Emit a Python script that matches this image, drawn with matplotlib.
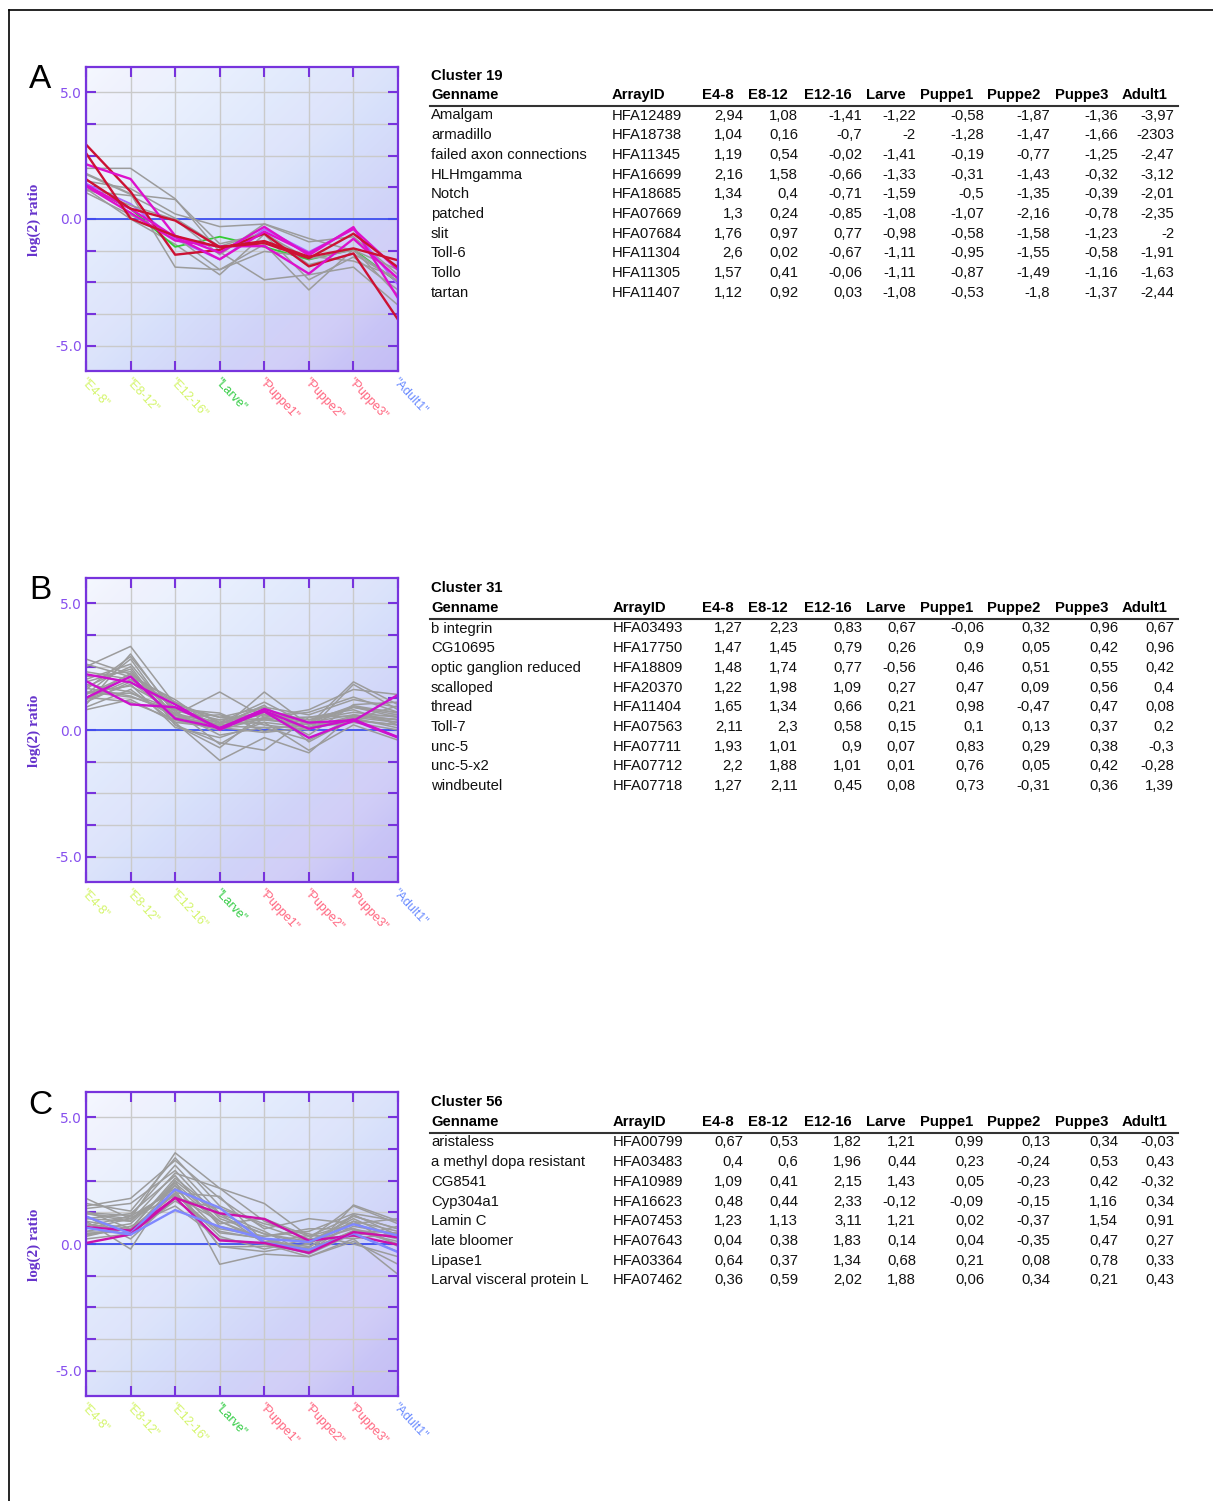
import numpy as np
import matplotlib.pyplot as plt
from matplotlib.lines import Line2D

W, H = 1213, 1501

stages = ["E4-8", "E8-12", "E12-16", "Larve", "Puppe1", "Puppe2", "Puppe3", "Adult1"]
stage_colors = ["#d4f56a", "#d4f56a", "#d4f56a", "#33cc44",
                "#ff6680", "#ff6680", "#ff6680", "#6b8cff"]

# ---- Cluster 19 ----
genes_a = ["Amalgam", "armadillo", "failed axon connections", "HLHmgamma", "Notch",
           "patched", "slit", "Toll-6", "Tollo", "tartan"]
ids_a = ["HFA12489", "HFA18738", "HFA11345", "HFA16699", "HFA18685",
         "HFA07669", "HFA07684", "HFA11304", "HFA11305", "HFA11407"]
values_a = [
    [2.94, 1.08, -1.41, -1.22, -0.58, -1.87, -1.36, -3.97],
    [1.04, 0.16, -0.7, -2, -1.28, -1.47, -1.66, -2.303],
    [1.19, 0.54, -0.02, -1.41, -0.19, -0.77, -1.25, -2.47],
    [2.16, 1.58, -0.66, -1.33, -0.31, -1.43, -0.32, -3.12],
    [1.34, 0.4, -0.71, -1.59, -0.5, -1.35, -0.39, -2.01],
    [1.3, 0.24, -0.85, -1.08, -1.07, -2.16, -0.78, -2.35],
    [1.76, 0.97, 0.77, -0.98, -0.58, -1.58, -1.23, -2],
    [2.6, 0.02, -0.67, -1.11, -0.95, -1.55, -0.58, -1.91],
    [1.57, 0.41, -0.06, -1.11, -0.87, -1.49, -1.16, -1.63],
    [1.12, 0.92, 0.03, -1.08, -0.53, -1.8, -1.37, -2.44],
]
highlight_a = {"Amalgam": "#cc1133", "Toll-6": "#cc1133", "Tollo": "#cc1133",
               "HLHmgamma": "#dd11cc", "Notch": "#dd11cc", "patched": "#dd11cc"}
# further cluster members
others_a = [
    [2.0, 2.0, 0.8, -1.3, -2.4, -2.2, -1.9, -3.4],
    [1.8, 1.0, -1.9, -2.0, -1.0, -2.8, -1.2, -3.0],
    [1.5, 1.2, 0.2, -0.3, -0.2, -0.9, -0.7, -2.2],
    [1.2, 0.0, -1.0, -2.2, -0.6, -2.4, -1.5, -2.8],
    [1.3, 0.4, -1.1, -0.7, -1.1, -1.6, -1.2, -2.5],
    [1.4, 0.6, -0.8, -1.6, -0.4, -1.3, -0.4, -2.6],
]
others_a_colors = ["#9c9c9c", "#9c9c9c", "#9c9c9c", "#9c9c9c", "#33cc33", "#aa66ff"]

# ---- Cluster 31 ----
genes_b = ["b integrin", "CG10695", "optic ganglion reduced", "scalloped", "thread",
           "Toll-7", "unc-5", "unc-5-x2", "windbeutel"]
ids_b = ["HFA03493", "HFA17750", "HFA18809", "HFA20370", "HFA11404",
         "HFA07563", "HFA07711", "HFA07712", "HFA07718"]
values_b = [
    [1.27, 2.23, 0.83, 0.67, -0.06, 0.32, 0.96, 0.67],
    [1.47, 1.45, 0.79, 0.26, 0.9, 0.05, 0.42, 0.96],
    [1.48, 1.74, 0.77, -0.56, 0.46, 0.51, 0.55, 0.42],
    [1.22, 1.98, 1.09, 0.27, 0.47, 0.09, 0.56, 0.4],
    [1.65, 1.34, 0.66, 0.21, 0.98, -0.47, 0.47, 0.08],
    [2.11, 2.3, 0.58, 0.15, 0.1, 0.13, 0.37, 0.2],
    [1.93, 1.01, 0.9, 0.07, 0.83, 0.29, 0.38, -0.3],
    [2.2, 1.88, 1.01, 0.01, 0.76, 0.05, 0.42, -0.28],
    [1.27, 2.11, 0.45, 0.08, 0.73, -0.31, 0.36, 1.39],
]
highlight_b = {"unc-5": "#cc11cc", "unc-5-x2": "#cc11cc", "windbeutel": "#cc11cc"}
others_b = [
    [2.8, 2.2, 1.1, 0.3, 0.6, 0.3, 0.9, 0.6],
    [2.5, 3.3, 1.0, 0.5, 0.4, 0.2, 1.9, 1.0],
    [1.0, 3.0, 0.6, 1.5, 0.5, 0.8, 1.6, 1.4],
    [1.4, 2.8, 0.4, 0.0, 1.5, 0.2, 0.9, 0.7],
    [0.8, 1.2, 0.3, -1.2, -0.3, -0.9, 0.6, 0.3],
    [1.7, 2.5, 0.2, -0.5, -0.8, 0.5, 0.8, 0.2],
    [1.2, 1.8, 0.1, -0.3, 0.3, -0.8, 0.2, -0.4],
    [2.0, 2.6, 0.5, 0.6, 0.2, 0.0, 1.8, 0.8],
    [1.5, 1.3, 0.8, 0.4, 0.6, 0.4, 0.7, 0.5],
    [0.9, 1.6, 0.3, 0.1, -0.1, 0.1, 0.3, 0.0],
    [2.3, 2.0, 0.9, 0.5, 0.9, 0.6, 1.2, 0.9],
    [1.6, 2.9, 0.7, -0.2, 0.1, -0.4, 0.5, 0.6],
    [1.3, 1.1, 0.4, 0.2, 0.4, 0.3, 0.6, 0.4],
    [1.9, 2.4, 0.2, -0.7, 0.7, -0.2, 1.0, 1.1],
    [1.1, 1.9, 0.6, 0.3, 1.1, 0.2, 0.4, 0.2],
    [2.6, 2.1, 1.2, 0.0, 0.5, 0.7, 1.3, 0.7],
    [1.8, 1.5, 0.5, 0.2, 0.3, 0.1, 0.5, 0.3],
    [1.4, 2.2, 0.3, 0.4, 0.7, 0.4, 0.9, 0.5],
]
others_b_colors = ["#9c9c9c"] * len(others_b)

# ---- Cluster 56 ----
genes_c = ["aristaless", "a methyl dopa resistant", "CG8541", "Cyp304a1", "Lamin C",
           "late bloomer", "Lipase1", "Larval visceral protein L"]
ids_c = ["HFA00799", "HFA03483", "HFA10989", "HFA16623", "HFA07453",
         "HFA07643", "HFA03364", "HFA07462"]
values_c = [
    [0.67, 0.53, 1.82, 1.21, 0.99, 0.13, 0.34, -0.03],
    [0.4, 0.6, 1.96, 0.44, 0.23, -0.24, 0.53, 0.43],
    [1.09, 0.41, 2.15, 1.43, 0.05, -0.23, 0.42, -0.32],
    [0.48, 0.44, 2.33, -0.12, -0.09, -0.15, 1.16, 0.34],
    [1.23, 1.13, 3.11, 1.21, 0.02, -0.37, 1.54, 0.91],
    [0.04, 0.38, 1.83, 0.14, 0.04, -0.35, 0.47, 0.27],
    [0.64, 0.37, 1.34, 0.68, 0.21, 0.08, 0.78, 0.33],
    [0.36, 0.59, 2.02, 1.88, 0.06, 0.34, 0.21, 0.43],
]
highlight_c = {"aristaless": "#cc11aa", "late bloomer": "#cc11aa",
               "CG8541": "#7f88ff", "Lipase1": "#7f88ff"}
others_c = [
    [1.8, 1.0, 3.6, 2.2, 0.9, 0.2, 1.5, 0.8],
    [1.5, 1.8, 3.3, 1.8, 0.6, 1.0, 0.8, 1.0],
    [1.2, 0.9, 2.8, 2.2, 1.6, 0.3, 1.1, 0.6],
    [0.9, -0.2, 2.5, -0.8, -0.4, -0.5, 0.2, -1.2],
    [1.0, 1.2, 2.7, 0.7, 0.3, 0.5, 1.2, 0.9],
    [0.3, 0.7, 1.5, 0.2, 0.0, -0.5, 0.1, -0.8],
    [1.4, 1.6, 2.9, 1.0, 0.4, 0.0, 0.9, 0.5],
    [0.6, 1.0, 2.2, 0.5, 0.2, -0.2, 0.5, 0.1],
    [1.1, 0.2, 1.8, 1.4, 0.8, 0.4, 0.0, -0.5],
    [0.5, 0.8, 2.4, 0.9, 0.1, -0.1, 0.7, 0.4],
    [0.8, 0.5, 2.0, 0.3, -0.2, 0.2, 0.3, 0.7],
    [1.6, 1.3, 3.4, 1.5, 0.7, 0.1, 1.0, 0.2],
    [0.2, 0.4, 1.7, 0.6, 0.3, 0.6, 0.6, 0.0],
    [1.3, 0.6, 2.6, 1.2, 0.5, -0.4, 0.4, -0.3],
    [0.7, 1.1, 2.1, -0.1, -0.3, 0.0, 1.1, 0.6],
    [1.0, 0.9, 2.3, 0.8, 1.0, 0.3, 0.8, 0.3],
    [0.9, 0.6, 2.5, 1.1, 0.4, 0.1, 0.6, 0.2],
    [1.2, 1.0, 1.9, 0.9, 0.2, -0.3, 0.9, -0.1],
]
others_c_colors = ["#9c9c9c"] * len(others_c)

# typo kept as printed in the source table
display_fix = {("armadillo", 7): "-2303"}

PURPLE = "#7733dd"
GREY = "#9c9c9c"
num_right = [743, 798, 862, 916, 984, 1050, 1118, 1174]
head_left = [702, 748, 804, 866, 920, 987, 1055, 1122]

fig = plt.figure(figsize=(W / 100, H / 100), dpi=100)


def fx(x):
    return x / W


def fy(y):
    return 1 - y / H


def background():
    c = np.linspace(0, 1, 300)
    r = np.linspace(0, 1, 300)
    C, R = np.meshgrid(c, r)
    t = ((C + R) / 2)[..., None]
    c0 = np.array([0.96, 0.975, 1.0])
    cm = np.array([0.85, 0.89, 0.985])
    c1 = np.array([0.77, 0.74, 0.96])
    img = np.where(t < 0.5, c0 + (cm - c0) * (t / 0.5), cm + (c1 - cm) * ((t - 0.5) / 0.5))
    pink = np.array([0.95, 0.88, 0.97])
    band = np.clip(np.sin(2 * np.pi * (C + R) * 1.4), 0, 1)[..., None]
    img = img * (1 - 0.12 * band) + pink * 0.12 * band
    return np.clip(img, 0, 1)


def draw_panel(top, letter, cluster, genes, ids, values, highlight, others, others_colors, ty, id_x):
    ax = fig.add_axes([fx(86), fy(top + 304), 312 / W, 304 / H])
    ax.imshow(background(), extent=[0, 7, -6, 6], aspect="auto", zorder=0)
    ax.set_xlim(0, 7)
    ax.set_ylim(-6, 6)
    ax.set_axisbelow(True)
    yt = np.arange(-5, 5.01, 1.25)
    ax.set_yticks(yt)
    ax.set_yticklabels([f"{v:.1f}" if v in (-5, 0, 5) else "" for v in yt])
    ax.set_xticks(range(len(stages)))
    ax.grid(True, color="#cacaca", lw=1)
    ax.tick_params(axis="both", direction="in", length=7, width=1.5, color=PURPLE,
                   top=True, right=True, labelbottom=False, labelsize=10,
                   labelcolor="#8750ee", pad=3)
    for s in ax.spines.values():
        s.set_color(PURPLE)
        s.set_linewidth(1.6)
        s.set_zorder(5)
    ax.axhline(0, color="#3d4ff0", lw=1.3, zorder=1.5)

    x = np.arange(len(stages))
    for vals, col in zip(others, others_colors):
        ax.plot(x, vals, color=col, lw=1.3 if col != GREY else 1.1, zorder=2)
    for g, vals in zip(genes, values):
        if g not in highlight:
            ax.plot(x, vals, color=GREY, lw=1.1, zorder=2)
    for g, vals in zip(genes, values):
        if g in highlight:
            ax.plot(x, vals, color=highlight[g], lw=1.7, zorder=3)

    tr = ax.get_xaxis_transform()
    for i, (lab, col) in enumerate(zip(stages, stage_colors)):
        ax.text(i + 0.02, -0.015, f'"{lab}"', transform=tr, rotation=-47,
                rotation_mode="anchor", ha="left", va="top", color=col,
                fontsize=9, family="Liberation Sans", clip_on=False)

    fig.text(fx(40), fy(top + 13), letter, fontsize=24, family="Liberation Sans",
             ha="center", va="center")
    fig.text(fx(34), fy(top + 153), "log(2) ratio", rotation=90, fontsize=11,
             family="Liberation Serif", weight="bold", color="#6633cc",
             ha="center", va="center")

    # table
    fs = 10.7

    def put(xp, yp, s, **kw):
        fig.text(fx(xp), fy(yp + 4.5), s, fontsize=fs, family="Liberation Sans",
                 va="baseline", **kw)

    put(431, ty, cluster, weight="bold")
    hy = ty + 19.5
    put(431, hy, "Genname", weight="bold")
    put(id_x, hy, "ArrayID", weight="bold")
    for s, hx in zip(stages, head_left):
        put(hx, hy, s, weight="bold")
    fig.add_artist(Line2D([fx(430), fx(1178)], [fy(ty + 30.5)] * 2,
                          color="#333333", lw=1.5))
    for k, (g, aid, vals) in enumerate(zip(genes, ids, values)):
        ry = ty + 40 + 19.7 * k
        put(431, ry, g, color="#111111")
        put(id_x, ry, aid, color="#111111")
        for j, (v, nx) in enumerate(zip(vals, num_right)):
            txt = display_fix.get((g, j), f"{v:g}".replace(".", ","))
            put(nx, ry, txt, ha="right", color="#111111")
    return ax


draw_panel(67, "A", "Cluster 19", genes_a, ids_a, values_a, highlight_a,
           others_a, others_a_colors, 75, 612)
draw_panel(578, "B", "Cluster 31", genes_b, ids_b, values_b, highlight_b,
           others_b, others_b_colors, 588, 613)
draw_panel(1092, "C", "Cluster 56", genes_c, ids_c, values_c, highlight_c,
           others_c, others_c_colors, 1102, 613)

# outer frame (top and left edges visible)
fig.add_artist(Line2D([fx(8.5), fx(8.5)], [fy(9.5), 0], color="black", lw=1.2))
fig.add_artist(Line2D([fx(8.5), 1], [fy(9.5), fy(9.5)], color="black", lw=1.2))

fig.savefig("out.png", dpi=100)
